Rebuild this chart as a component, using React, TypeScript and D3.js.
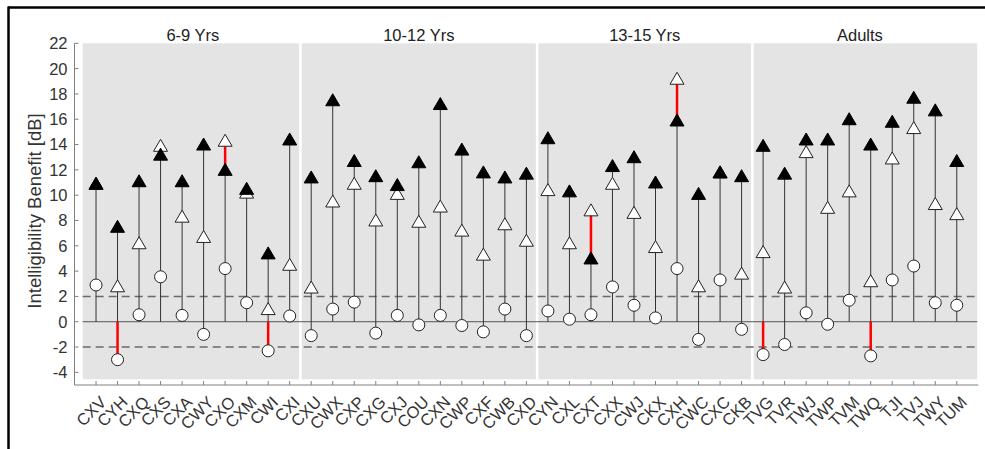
import React from "react";
import * as d3 from "d3";

// subjects per age group
const groups = ["6-9 Yrs", "10-12 Yrs", "13-15 Yrs", "Adults"];
const groupSizes = [10, 11, 10, 10];

const subjects = [
  "CXV", "CYH", "CXQ", "CXS", "CXA", "CWY", "CXO", "CXM", "CWI", "CXI",
  "CXU", "CWX", "CXP", "CXG", "CXJ", "COU", "CXN", "CWP", "CXF", "CWB", "CXD",
  "CYN", "CXL", "CXT", "CXX", "CWJ", "CKX", "CXH", "CWC", "CXC", "CKB",
  "TVG", "TVR", "TWJ", "TWP", "TVM", "TWQ", "TJI", "TVJ", "TWY", "TUM",
];

// filled triangles
const filled = [
  10.9, 7.5, 11.1, 13.2, 11.1, 14.0, 12.0, 10.5, 5.4, 14.4,
  11.4, 17.5, 12.7, 11.5, 10.8, 12.6, 17.2, 13.6, 11.8, 11.4, 11.7,
  14.5, 10.3, 5.0, 12.3, 13.0, 11.0, 15.9, 10.1, 11.8, 11.5,
  13.9, 11.7, 14.4, 14.4, 16.0, 14.0, 15.8, 17.7, 16.7, 12.7,
];

// open triangles
const open = [
  10.9, 2.8, 6.2, 13.9, 8.3, 6.7, 14.3, 10.2, 1.0, 4.5,
  2.7, 9.5, 10.9, 8.0, 10.1, 7.9, 9.1, 7.2, 5.3, 7.7, 6.4,
  10.4, 6.2, 8.8, 10.9, 8.6, 5.9, 19.2, 2.8, 11.8, 3.8,
  5.5, 2.7, 13.4, 9.0, 10.3, 3.2, 12.9, 15.3, 9.3, 8.5,
];

// open circles
const circles = [
  2.9, -3.0, 0.55, 3.55, 0.5, -1.0, 4.2, 1.5, -2.3, 0.45,
  -1.1, 1.0, 1.55, -0.9, 0.5, -0.25, 0.5, -0.3, -0.8, 1.0, -1.1,
  0.85, 0.2, 0.55, 2.75, 1.3, 0.3, 4.2, -1.4, 3.3, -0.6,
  -2.6, -1.8, 0.7, -0.2, 1.7, -2.7, 3.3, 4.4, 1.5, 1.3,
];

const yTicks = [-4, -2, 0, 2, 4, 6, 8, 10, 12, 14, 16, 18, 20, 22];

const W = 985;
const H = 449;
const font = "'Liberation Sans', Arial, sans-serif";

export default function App() {
  const x = d3.scaleLinear().domain([-1, subjects.length]).range([74.5, 978.3]);
  const y = d3.scaleLinear().domain([-5, 22]).range([385, 43.3]);

  // group start indices
  const starts = groupSizes.map((_, i) => d3.sum(groupSizes.slice(0, i)));
  const grayL = x(-0.62);
  const grayR = x(40.95);
  const seps = starts.slice(1).map((s) => x(s - 0.5));
  const panels = [grayL, ...seps, grayR];

  const tri = (cx: number, cy: number) =>
    `M${cx},${cy - 6.5}L${cx + 7},${cy + 5.5}L${cx - 7},${cy + 5.5}Z`;

  return (
    <svg
      width={W}
      height={H}
      style={{ position: "absolute", left: 0, top: 0, display: "block" }}
      fontFamily={font}
    >
      <rect x={0} y={0} width={W} height={H} fill="#fff" />
      {/* frame */}
      <line x1={8} x2={W} y1={7.5} y2={7.5} stroke="#000" strokeWidth={2.5} />
      <line x1={8.5} x2={8.5} y1={6.5} y2={H} stroke="#000" strokeWidth={2.5} />

      {/* panel backgrounds */}
      {groups.map((g, i) => (
        <rect
          key={g}
          x={panels[i] + (i > 0 ? 1.3 : 0)}
          y={y(22)}
          width={panels[i + 1] - panels[i] - (i > 0 ? 1.3 : 0) - (i < 3 ? 1.3 : 0)}
          height={y(-4.55) - y(22)}
          fill="#e4e4e4"
        />
      ))}

      {/* reference lines */}
      {[2, -2].map((v) => (
        <line
          key={v}
          x1={grayL}
          x2={grayR}
          y1={y(v)}
          y2={y(v)}
          stroke="#6a6a6a"
          strokeWidth={1.5}
          strokeDasharray="8,5"
        />
      ))}
      <line x1={grayL} x2={grayR} y1={y(0)} y2={y(0)} stroke="#555" strokeWidth={1} />

      {/* stems */}
      {subjects.map((s, i) => {
        const top = Math.max(filled[i], open[i]);
        const bot = Math.min(0, circles[i]);
        return (
          <line key={s} x1={x(i)} x2={x(i)} y1={y(bot)} y2={y(top)} stroke="#333" strokeWidth={1} />
        );
      })}
      {subjects.map((s, i) => (
        <g key={s}>
          {open[i] > filled[i] && (
            <line x1={x(i)} x2={x(i)} y1={y(filled[i])} y2={y(open[i])} stroke="#ff0000" strokeWidth={2.5} />
          )}
          {circles[i] < -2 && (
            <line x1={x(i)} x2={x(i)} y1={y(0)} y2={y(circles[i])} stroke="#ff0000" strokeWidth={2.5} />
          )}
        </g>
      ))}

      {/* markers */}
      {subjects.map((s, i) => (
        <path key={s} d={tri(x(i), y(open[i]))} fill="#fff" stroke="#222" strokeWidth={1} />
      ))}
      {subjects.map((s, i) => (
        <path key={s} d={tri(x(i), y(filled[i]))} fill="#000" stroke="#000" strokeWidth={1} />
      ))}
      {subjects.map((s, i) => (
        <circle key={s} cx={x(i)} cy={y(circles[i])} r={6} fill="#fff" stroke="#222" strokeWidth={1} />
      ))}

      {/* axes */}
      <line x1={x(-1)} x2={x(-1)} y1={y(22)} y2={y(-5)} stroke="#808080" strokeWidth={1} />
      <line x1={x(-1)} x2={x(subjects.length)} y1={y(-5)} y2={y(-5)} stroke="#808080" strokeWidth={1} />
      {yTicks.map((t) => (
        <g key={t}>
          <line x1={x(-1)} x2={x(-1) + 4} y1={y(t)} y2={y(t)} stroke="#808080" />
          <text
            x={x(-1) - 7}
            y={y(t)}
            dy="0.36em"
            textAnchor="end"
            fontSize={16.5}
            fill="#333"
          >
            {t}
          </text>
        </g>
      ))}
      {subjects.map((s, i) => (
        <g key={s}>
          <line x1={x(i)} x2={x(i)} y1={y(-5)} y2={y(-5) - 4} stroke="#808080" />
          <text
            transform={`translate(${x(i) + 3},${y(-5) + 10}) rotate(-45)`}
            textAnchor="end"
            dy="0.7em"
            fontSize={16.5}
            fill="#333"
          >
            {s}
          </text>
        </g>
      ))}

      {/* group titles */}
      {groups.map((g, i) => (
        <text
          key={g}
          x={x(starts[i] + (groupSizes[i] - 1) / 2)}
          y={40.5}
          textAnchor="middle"
          fontSize={16.5}
          fill="#222"
        >
          {g}
        </text>
      ))}

      <text
        transform={`translate(41,211) rotate(-90)`}
        textAnchor="middle"
        fontSize={18.5}
        fill="#333"
      >
        Intelligibility Benefit [dB]
      </text>
    </svg>
  );
}
